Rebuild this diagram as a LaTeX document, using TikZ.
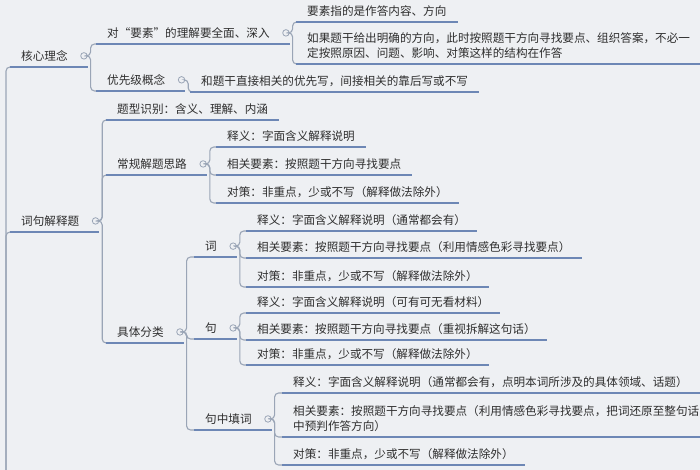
\documentclass[tikz,border=0pt]{standalone}
\usepackage{fontspec}
\setmainfont{Noto Sans CJK SC}
\usepackage{xcolor}
\usepackage{tikz}
\usetikzlibrary{positioning}
\definecolor{bgc}{HTML}{EEF0F3}
\definecolor{linec}{HTML}{6D87B5}
\definecolor{linkc}{HTML}{9AA5B6}
\definecolor{txtc}{HTML}{2E2E2E}
\tikzset{topic/.style={anchor=south west,inner xsep=11pt,inner ysep=5.5pt,text=txtc,
    font=\fontsize{11.6}{14.5}\selectfont},
    wide/.style={topic,text width=#1,align=left},
    dot/.style={draw=linkc,fill=bgc,circle,inner sep=0pt,minimum size=6.5pt,line width=0.8pt},
    link/.style={draw=linkc,line width=1.1pt,rounded corners=4pt},
    uline/.style={draw=linec,line width=1.8pt},
    x=1pt,y=-1pt}

\begin{document}
\begin{tikzpicture}
\fill[bgc] (0,0) rectangle (700,470);
\useasboundingbox (0,0) rectangle (700,470);
% 核心理念
\node[topic] (k1) at (10,67) {核心理念};
\node[topic] (a1) at (96,44) {对“要素”的理解要全面、深入};
\node[topic] (b1) at (296,22) {要素指的是作答内容、方向};
\node[wide=382pt] (b2) at (296,64) {如果题干给出明确的方向，此时按照题干方向寻找要点、组织答案，不必一\\定按照原因、问题、影响、对策这样的结构在作答};
\node[topic] (a2) at (96,91) {优先级概念};
\node[topic] (b3) at (190,92) {和题干直接相关的优先写，间接相关的靠后写或不写};
% 词句解释题
\node[topic] (k2) at (10,232) {词句解释题};
\node[topic] (c1) at (106,120) {题型识别：含义、理解、内涵};
\node[topic] (c2) at (106,175) {常规解题思路};
\node[topic] (d1) at (216,147) {释义：字面含义解释说明};
\node[topic] (d2) at (216,175) {相关要素：按照题干方向寻找要点};
\node[topic] (d3) at (216,203) {对策：非重点，少或不写（解释做法除外）};
\node[topic] (c3) at (106,343) {具体分类};
\node[topic] (e1) at (194,257) {词};
\node[topic] (f1) at (246,231) {释义：字面含义解释说明（通常都会有）};
\node[topic] (f2) at (246,258) {相关要素：按照题干方向寻找要点（利用情感色彩寻找要点）};
\node[topic] (f3) at (246,287) {对策：非重点，少或不写（解释做法除外）};
\node[topic] (e2) at (194,339) {句};
\node[topic] (g1) at (246,313) {释义：字面含义解释说明（可有可无看材料）};
\node[topic] (g2) at (246,340) {相关要素：按照题干方向寻找要点（重视拆解这句话）};
\node[topic] (g3) at (246,365) {对策：非重点，少或不写（解释做法除外）};
\node[topic] (e3) at (194,430) {句中填词};
\node[wide=396pt] (h1) at (282,393) {释义：字面含义解释说明（通常都会有，点明本词所涉及的具体领域、话题）};
\node[wide=396pt] (h2) at (282,437) {相关要素：按照题干方向寻找要点（利用情感色彩寻找要点，把词还原至整句话\\中预判作答方向）};
\node[topic] (h3) at (282,465) {对策：非重点，少或不写（解释做法除外）};

\foreach \n in {k1,a1,a2,k2,c2,c3,e1,e2,e3}
    \node[dot,right=1.5pt of \n] (\n-o) {};

\coordinate (root) at (6,475);
\draw[link] (root) |- (k1.south west);
\draw[link] (root) |- (k2.south west);
\foreach \p/\c in {k1/a1,k1/a2,a1/b1,a1/b2,a2/b3,k2/c1,k2/c2,k2/c3,
    c2/d1,c2/d2,c2/d3,c3/e1,c3/e2,c3/e3,e1/f1,e1/f2,e1/f3,
    e2/g1,e2/g2,e2/g3,e3/h1,e3/h2,e3/h3}
    \draw[link] (\p-o.east) -- ++(3,0) |- (\c.south west);

\foreach \n in {k1,a1,a2,k2,c2,c3,e1,e2,e3}
    \draw[uline] (\n.south west) -- (\n-o.east |- \n.south);
\foreach \n in {b1,b2,b3,c1,d1,d2,d3,f1,f2,f3,g1,g2,g3,h1,h2,h3}
    \draw[uline] (\n.south west) -- (\n.south east);
\end{tikzpicture}
\end{document}
